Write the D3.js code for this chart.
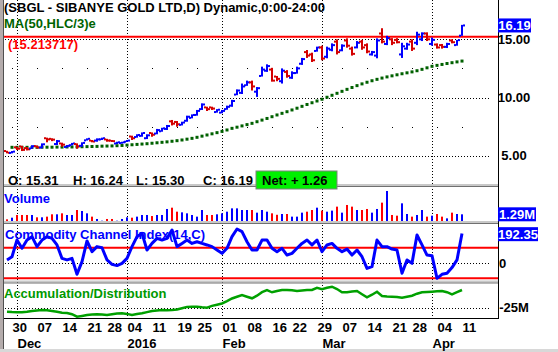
<!DOCTYPE html>
<html>
<head>
<meta charset="utf-8">
<script src="https://cdn.jsdelivr.net/npm/d3@7/dist/d3.min.js"></script>
<style>
  body { margin: 0; background: #fff; }
  svg text { font-family: "Liberation Sans", Arial, sans-serif; font-weight: bold; }
</style>
</head>
<body>
<div id="chart"></div>
<script>
// trading-day index of the first bar (Nov 30 2015 = 0)
const firstDay = -1;

const openP = [5.40,5.24,5.72,5.80,5.65,5.62,5.82,5.70,6.50,6.45,6.00,6.05,5.75,5.90,6.00,5.85,6.32,6.30,6.30,6.40,6.40,6.30,6.05,6.08,6.20,6.65,6.60,6.70,6.50,6.95,6.90,7.10,7.30,7.95,7.90,7.65,8.00,8.25,8.50,9.00,9.15,9.15,8.75,8.70,9.00,9.30,10.25,10.40,11.05,11.30,10.50,11.85,12.30,12.40,11.80,11.40,12.20,11.70,12.10,12.90,13.90,13.70,14.00,14.30,13.50,14.10,14.80,14.05,14.90,14.20,14.30,14.80,14.50,13.70,13.60,15.50,14.60,15.00,14.95,13.70,14.20,14.80,14.70,15.00,15.50,14.60,14.55,14.50,14.35,14.90,14.50,15.31];
const highP = [5.42,5.40,5.77,5.85,5.75,5.90,5.88,6.06,6.55,6.50,6.35,6.12,5.92,6.10,6.06,6.15,6.49,6.35,6.49,6.55,6.45,6.35,6.20,6.20,6.35,6.72,6.84,7.00,6.84,7.00,7.30,7.40,7.64,8.07,7.98,7.92,8.44,8.55,8.93,9.50,9.21,9.21,9.00,8.93,9.30,9.80,10.70,11.20,11.45,11.45,10.90,12.65,12.85,12.55,11.85,12.50,12.35,12.25,12.65,13.40,14.08,13.85,14.37,14.45,14.37,14.65,15.00,14.57,15.08,14.37,14.85,14.95,14.65,14.00,15.08,15.95,15.30,15.10,15.10,14.70,14.70,15.00,15.65,15.60,15.60,15.15,14.65,14.60,14.70,15.00,14.95,16.24];
const lowP = [5.20,5.20,5.49,5.40,5.45,5.60,5.63,5.63,6.15,6.25,5.92,5.77,5.70,5.88,5.60,5.77,6.30,6.15,6.20,6.35,6.20,6.18,6.00,6.03,6.18,6.35,6.55,6.63,6.43,6.63,6.84,7.06,7.21,7.60,7.49,7.60,7.92,8.21,8.44,8.93,8.84,8.93,8.70,8.64,8.95,9.20,10.20,10.30,11.00,10.60,10.05,11.80,12.20,11.36,11.40,11.20,11.70,11.60,12.05,12.80,13.40,13.05,13.94,13.20,13.37,13.97,13.70,13.97,14.28,13.60,14.22,14.10,13.80,13.60,13.37,14.65,14.50,14.50,14.65,13.40,14.10,14.00,14.50,14.85,14.85,14.45,14.20,14.20,14.25,14.65,14.45,15.30];
const closeP = [5.25,5.35,5.60,5.50,5.55,5.82,5.70,5.98,6.40,6.38,6.25,5.95,5.85,6.05,5.80,6.10,6.45,6.22,6.40,6.50,6.30,6.25,6.15,6.15,6.30,6.50,6.78,6.95,6.75,6.80,7.20,7.35,7.55,7.75,7.70,7.85,8.35,8.50,8.85,9.40,9.00,9.05,8.95,8.85,9.20,9.70,10.60,10.95,11.30,10.95,10.80,12.40,12.70,11.45,11.60,12.30,11.85,12.10,12.50,13.30,13.60,13.20,14.30,13.35,14.20,14.50,13.90,14.45,14.45,13.75,14.70,14.30,13.95,13.90,14.90,14.80,15.10,14.70,14.75,14.40,14.55,14.20,15.40,15.50,15.00,14.95,14.30,14.35,14.60,14.75,14.93,16.19];

// MA(50,HLC/3), starts at day 0
const ma50 = [5.72,5.72,5.72,5.72,5.72,5.72,5.73,5.73,5.73,5.74,5.74,5.75,5.75,5.76,5.77,5.78,5.79,5.80,5.82,5.83,5.84,5.86,5.88,5.91,5.94,5.97,6.00,6.03,6.07,6.11,6.15,6.19,6.24,6.29,6.35,6.42,6.49,6.58,6.68,6.78,6.88,6.98,7.09,7.21,7.35,7.45,7.56,7.67,7.78,7.92,8.06,8.20,8.35,8.50,8.64,8.78,8.93,9.08,9.24,9.40,9.55,9.70,9.85,10.02,10.19,10.36,10.53,10.70,10.86,11.02,11.17,11.31,11.44,11.56,11.67,11.77,11.86,11.95,12.04,12.12,12.20,12.30,12.42,12.55,12.68,12.76,12.84,12.92,12.99,13.06,13.13];

// volume in millions
const volume = [0.32,0.64,1.16,1.16,1.16,1.16,0.71,0.71,0.84,1.29,1.29,1.48,1.16,1.16,2.12,1.93,1.48,0.84,0.39,0.06,0.39,0.39,0.06,0.39,0.71,0.64,0.84,1.16,1.16,0.96,1.16,1.16,2.32,2.57,1.80,1.67,1.48,1.16,0.84,2.12,1.16,1.16,1.29,1.48,1.80,2.44,2.44,2.12,2.12,2.12,1.61,2.12,1.80,1.48,1.20,1.35,1.35,0.84,0.84,1.61,1.80,2.12,2.57,2.00,1.80,2.00,2.77,1.61,3.09,2.77,2.12,2.12,2.32,1.61,2.32,3.54,5.79,1.16,1.03,3.41,1.35,0.84,1.16,2.12,0.84,1.03,1.35,0.84,0.51,1.61,1.35,1.29];

// Commodity Channel Index(14,C)
const cci = [20,41,150,96,150,172,107,150,172,161,118,30,20,30,-74,9,144,74,107,100,20,-9,-17,-2,30,107,172,194,85,128,161,150,161,216,107,128,150,128,139,128,118,107,85,63,96,172,222,205,139,85,85,150,150,96,74,96,52,63,96,128,150,118,150,74,118,128,96,74,91,52,85,41,-35,-24,150,107,107,91,85,-67,20,-2,183,118,52,48,-100,-74,-67,-30,20,192.35];

// Accumulation/Distribution, millions
const accDist = [-29,-29.4,-29.6,-29.6,-29,-28.2,-27.8,-27.3,-27.6,-28.3,-29,-30,-30.4,-31.5,-34,-33.2,-32.3,-31.8,-31.6,-31.9,-32.3,-31.5,-30.8,-30.6,-31.2,-32.3,-31.4,-30.6,-29.4,-28.3,-27.8,-27.3,-27.5,-27.3,-26.8,-25.5,-24.2,-24.1,-24,-24.6,-25,-23.2,-22,-20.8,-18.5,-15.8,-14,-12.3,-14,-15.6,-13,-9.5,-7.5,-9.6,-8.3,-7.3,-7.3,-7.6,-8.3,-7.8,-7.3,-7.3,-5.2,-6.4,-5,-4,-6.3,-9.5,-9.6,-8.8,-8.3,-11.5,-14.6,-12,-9,-13.3,-13.8,-14,-14.3,-15,-14,-13,-11,-9.6,-9.3,-9,-8.6,-8.3,-9.5,-11.6,-9.5,-7.3];

const dayTicks = [0,5,10,15,19,23,28,33,37,42,47,52,56,61,66,71,76,80,85,90];
const dayLabels = ["30","07","14","21","28","04","11","19","25","01","08","16","22","29","07","14","21","28","04","11"];
const monthTicks = [1,23,42,62,84];
const monthLabels = ["Dec","2016","Feb","Mar","Apr"];
const priceTicks = [5,10,15];
const priceMinorTicks = [2.5,7.5,12.5];
const lastLevel = 15.213717;

const width = 558, height = 352;
const plotLeft = 3, plotRight = 498;

const bars = openP.map((o, k) => ({
  i: firstDay + k, o: o, h: highP[k], l: lowP[k], c: closeP[k],
  v: volume[k], cci: cci[k], ad: accDist[k]
}));
const maData = ma50.map((m, k) => ({ i: k, m: m }));

const x = d3.scaleLinear().domain([0, 90]).range([12, 462]);
const yPrice = d3.scaleLinear().domain([5, 15]).range([155.7, 39.3]);
const yVol = d3.scaleLinear().domain([0, 6.56]).range([221, 187]);
const yCci = d3.scaleLinear().domain([-100, 100]).range([278.3, 247.7]);
const yAd = d3.scaleLinear().domain([-35, -5]).range([317.7, 287.7]);

const svg = d3.select("#chart").append("svg")
  .attr("width", width).attr("height", height);

svg.append("rect").attr("width", width).attr("height", height).attr("fill", "#fff");

// clip paths for each pane
const panes = [["pricePane", 0, 170], ["volPane", 187, 221], ["cciPane", 224, 281], ["adPane", 284, 318]];
const defs = svg.append("defs");
panes.forEach(p => {
  defs.append("clipPath").attr("id", p[0]).append("rect")
    .attr("x", plotLeft).attr("y", p[1]).attr("width", plotRight - plotLeft).attr("height", p[2] - p[1]);
});

// dotted grid
function hDots(y, x0, x1) {
  svg.append("line")
    .attr("x1", x0).attr("x2", x1)
    .attr("y1", Math.round(y) + 0.5).attr("y2", Math.round(y) + 0.5)
    .attr("stroke", "#000").attr("stroke-dasharray", "1,2");
}
priceTicks.forEach(t => hDots(yPrice(t), plotLeft + 2, 490));
hDots(yCci(0), plotLeft + 2, 490);
hDots(yAd(-25), plotLeft + 2, 490);

// sparse dots at weekly positions on half levels
priceMinorTicks.forEach(t => {
  svg.selectAll(null).data(dayTicks).enter().append("rect")
    .attr("x", d => x(d)).attr("y", Math.round(yPrice(t)))
    .attr("width", 1).attr("height", 1).attr("fill", "#000");
});

svg.selectAll("line.vgrid").data(monthTicks).enter().append("line")
  .attr("class", "vgrid")
  .attr("x1", d => x(d) + 0.5).attr("x2", d => x(d) + 0.5)
  .attr("y1", 0).attr("y2", 318)
  .attr("stroke", "#000").attr("stroke-dasharray", "1,2");

// last-value level line
svg.append("line")
  .attr("x1", plotLeft).attr("x2", plotRight)
  .attr("y1", yPrice(lastLevel)).attr("y2", yPrice(lastLevel))
  .attr("stroke", "#ff0000").attr("stroke-width", 2);

// moving average dots
svg.append("g").attr("clip-path", "url(#pricePane)")
  .selectAll("rect").data(maData).enter().append("rect")
  .attr("x", d => x(d.i) - 1.5).attr("y", d => yPrice(d.m) - 1.5)
  .attr("width", 3).attr("height", 3).attr("fill", "#006000");

// OHLC bars
const barColor = d => d.c >= d.o ? "#0000ff" : "#d40000";
const ohlc = svg.append("g").attr("clip-path", "url(#pricePane)")
  .selectAll("g").data(bars).enter().append("g").attr("fill", barColor);
ohlc.append("rect")
  .attr("x", d => x(d.i) - 1).attr("width", 2)
  .attr("y", d => yPrice(d.h)).attr("height", d => Math.max(2, yPrice(d.l) - yPrice(d.h)));
ohlc.append("rect")
  .attr("x", d => x(d.i) - 3).attr("width", 2)
  .attr("y", d => yPrice(d.o) - 1).attr("height", 2);
ohlc.append("rect")
  .attr("x", d => x(d.i) + 1).attr("width", 2)
  .attr("y", d => yPrice(d.c) - 1).attr("height", 2);

// volume bars
svg.append("g").attr("clip-path", "url(#volPane)")
  .selectAll("rect").data(bars).enter().append("rect")
  .attr("x", d => x(d.i) - 1).attr("width", 2)
  .attr("y", d => yVol(d.v)).attr("height", d => yVol(0) - yVol(d.v))
  .attr("fill", d => d.c >= d.o ? "#0000ff" : "#ff0000");

// CCI
[100, -100].forEach(t => {
  svg.append("line")
    .attr("x1", plotLeft).attr("x2", plotRight)
    .attr("y1", yCci(t)).attr("y2", yCci(t))
    .attr("stroke", "#ff0000").attr("stroke-width", 2);
});
svg.append("path").datum(bars)
  .attr("clip-path", "url(#cciPane)")
  .attr("fill", "none").attr("stroke", "#0000ff").attr("stroke-width", 3)
  .attr("stroke-linejoin", "round")
  .attr("d", d3.line().x(d => x(d.i)).y(d => yCci(d.cci)));

// Accumulation / Distribution
svg.append("path").datum(bars)
  .attr("clip-path", "url(#adPane)")
  .attr("fill", "none").attr("stroke", "#00a000").attr("stroke-width", 2.5)
  .attr("d", d3.line().x(d => x(d.i)).y(d => yAd(d.ad)));

// pane separators
function separator(y) {
  svg.append("rect").attr("x", plotLeft).attr("y", y).attr("width", plotRight - plotLeft).attr("height", 2).attr("fill", "#c8c8c8");
  svg.append("rect").attr("x", plotLeft).attr("y", y + 2).attr("width", plotRight - plotLeft).attr("height", 1).attr("fill", "#707070");
}
separator(184);
separator(221);
separator(280.5);

// frame
svg.append("line").attr("x1", plotRight + 0.5).attr("x2", plotRight + 0.5).attr("y1", 0).attr("y2", 318.5)
  .attr("stroke", "#000");
svg.append("line").attr("x1", plotLeft).attr("x2", plotRight + 1).attr("y1", 318.5).attr("y2", 318.5)
  .attr("stroke", "#000");
svg.append("rect").attr("x", 0).attr("y", 0).attr("width", 3).attr("height", height).attr("fill", "#b4acac");
svg.append("line").attr("x1", 3.5).attr("x2", 3.5).attr("y1", 0).attr("y2", height).attr("stroke", "#505050");
svg.append("rect").attr("x", 0).attr("y", 349).attr("width", width).attr("height", 3).attr("fill", "#d8d8d8");

// titles
function label(txt, xp, yp, color) {
  return svg.append("text").attr("x", xp).attr("y", yp).attr("fill", color)
    .attr("font-size", "13px").text(txt);
}
label("(SBGL - SIBANYE GOLD LTD,D) Dynamic,0:00-24:00", 4, 12, "#000");
label("MA(50,HLC/3)e", 4, 28, "#006400");
label("(15.213717)", 8, 49, "#ff0000");
label("Volume", 4, 203, "#0000ff");
label("Commodity Channel Index(14,C)", 5, 239, "#0000ff");
label("Accumulation/Distribution", 4, 298, "#009900");

// info row
label("O: " + openP[openP.length - 1].toFixed(2), 8, 185, "#000");
label("H: " + highP[highP.length - 1].toFixed(2), 73, 185, "#000");
label("L: " + lowP[lowP.length - 1].toFixed(2), 136, 185, "#000");
label("C: " + closeP[closeP.length - 1].toFixed(2), 203, 185, "#000");
svg.append("rect").attr("x", 256).attr("y", 171).attr("width", 81).attr("height", 18)
  .attr("fill", "#00f000").attr("stroke", "#808080");
const net = closeP[closeP.length - 1] - closeP[closeP.length - 2];
label("Net: + " + net.toFixed(2), 262, 185, "#000");

// right price axis
const pAxis = svg.append("g").attr("transform", "translate(514,0)")
  .call(d3.axisRight(yPrice).tickValues(priceTicks).tickFormat(d3.format(".2f")).tickSize(0));
pAxis.select(".domain").remove();
pAxis.selectAll("text").attr("x", 0).attr("text-anchor", "middle")
  .attr("font-size", "13px").attr("font-family", null).attr("fill", "#000");

// value boxes on the right
function valueBox(txt, yc, w) {
  svg.append("rect").attr("x", 498).attr("y", yc - 7).attr("width", w).attr("height", 14).attr("fill", "#0000ff");
  svg.append("text").attr("x", 498 + w / 2).attr("y", yc).attr("dy", "0.36em")
    .attr("text-anchor", "middle").attr("fill", "#fff").attr("font-size", "13px").text(txt);
}
valueBox(closeP[closeP.length - 1].toFixed(2), yPrice(closeP[closeP.length - 1]), 33);
valueBox(volume[volume.length - 1].toFixed(2) + "M", yVol(volume[volume.length - 1]), 38);
valueBox(cci[cci.length - 1].toFixed(2), yCci(cci[cci.length - 1]) + 0.6, 40);

svg.append("text").attr("x", 499).attr("y", yCci(0)).attr("dy", "0.36em")
  .attr("font-size", "13px").text("0");
svg.append("text").attr("x", 514).attr("y", yAd(-25)).attr("dy", "0.36em")
  .attr("text-anchor", "middle").attr("font-size", "13px").text("-25M");

// date axis
const dAxis = svg.append("g").attr("transform", "translate(0,318)")
  .call(d3.axisBottom(x).tickValues(dayTicks).tickFormat((d, k) => dayLabels[k]).tickSize(0));
dAxis.select(".domain").remove();
dAxis.selectAll("text").attr("dy", null).attr("y", 14).attr("text-anchor", "start")
  .attr("font-size", "13px").attr("font-family", null).attr("fill", "#000");

const mAxis = svg.append("g").attr("transform", "translate(0,318)")
  .call(d3.axisBottom(x).tickValues(monthTicks).tickFormat((d, k) => monthLabels[k]).tickSize(0));
mAxis.select(".domain").remove();
mAxis.selectAll("text").attr("dy", null).attr("y", 30).attr("text-anchor", "start")
  .attr("font-size", "13px").attr("font-family", null).attr("fill", "#000");
</script>
</body>
</html>
